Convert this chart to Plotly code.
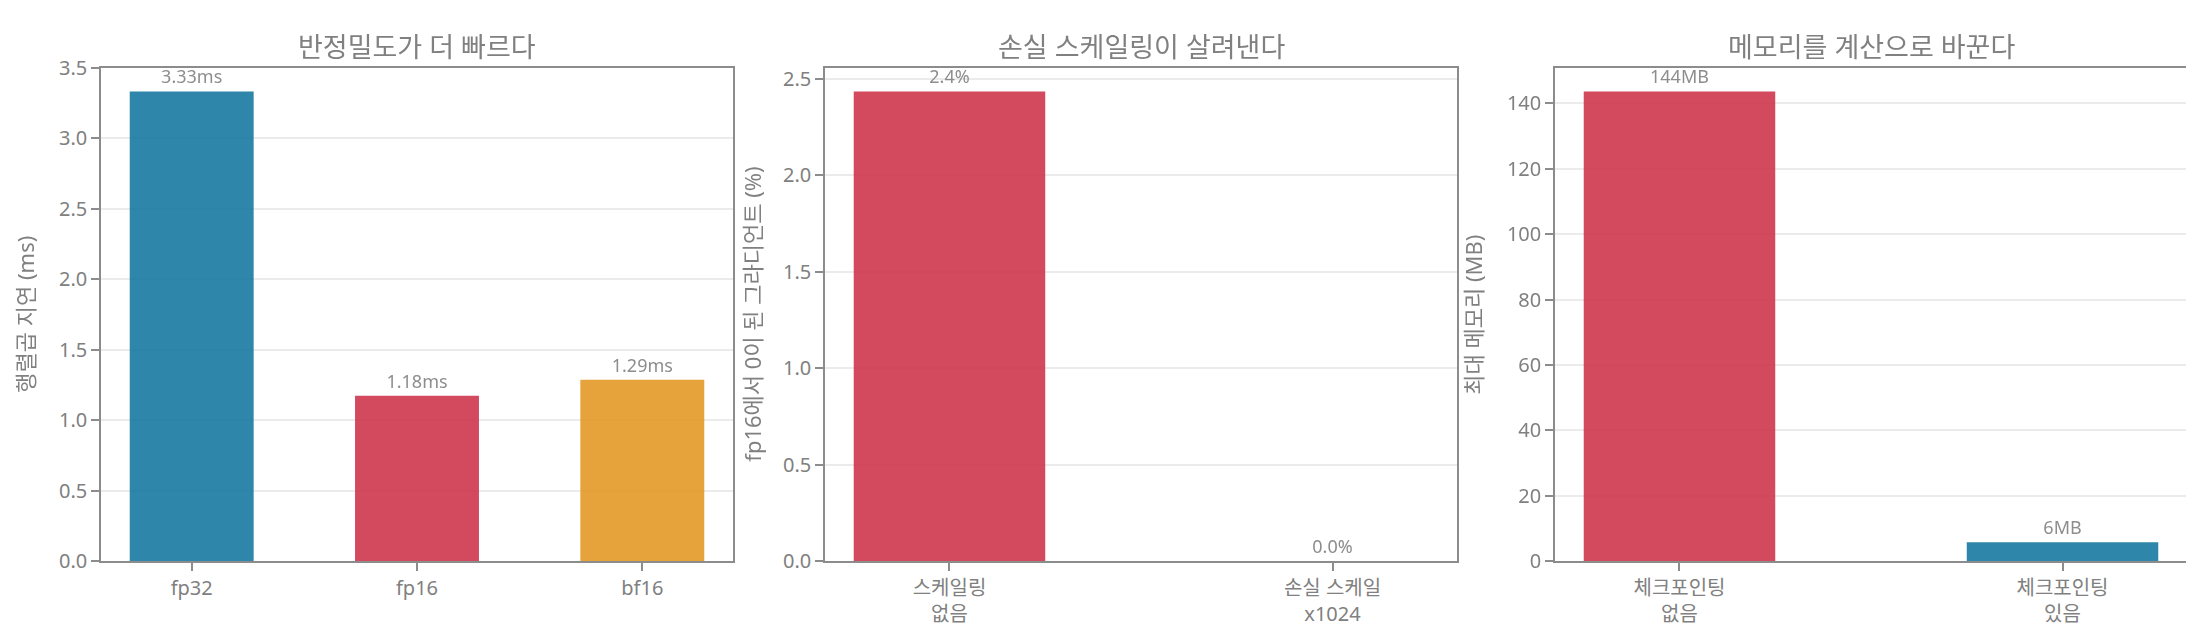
import plotly.graph_objects as go

# panel 1: matmul latency by precision
prec_labels = ["fp32", "fp16", "bf16"]
prec_latency_ms = [3.334, 1.175, 1.288]

# panel 2: share of gradients that underflow to zero in fp16
scale_labels = ["스케일링<br>없음", "손실 스케일<br>x1024"]
zero_grad_pct = [2.434, 0.0]

# panel 3: peak memory with / without checkpointing
ckpt_labels = ["체크포인팅<br>없음", "체크포인팅<br>있음"]
peak_mem_mb = [143.6, 5.8]

titles = ["반정밀도가 더 빠르다", "손실 스케일링이 살려낸다", "메모리를 계산으로 바꾼다"]
ytitles = ["행렬곱 지연 (ms)", "fp16에서 0이 된 그라디언트 (%)", "최대 메모리 (MB)"]

BLUE = "#1779A1"
RED = "#CE354C"
ORANGE = "#E59925"
TXT = "#808080"
SPINE = "#8c8c8c"
FONT = "Noto Sans, Noto Sans CJK KR, sans-serif"

W, H = 2194, 642
# plot boxes in pixels (left, right), shared top/bottom
boxes = [(93, 725), (817, 1449), (1547, 2179)]
top, bottom = 48, 563
ytitle_x = [17, 744, 1465]

fig = go.Figure()

fig.add_trace(go.Bar(
    x=prec_labels, y=prec_latency_ms, width=0.55,
    marker=dict(color=[BLUE, RED, ORANGE], line=dict(width=0)), opacity=0.9,
    texttemplate="%{y:.2f}ms", textposition="outside", cliponaxis=False,
    textfont=dict(size=18, color=TXT), xaxis="x", yaxis="y",
))
fig.add_trace(go.Bar(
    x=scale_labels, y=zero_grad_pct, width=0.5,
    marker=dict(color=[RED, BLUE], line=dict(width=0)), opacity=0.9,
    texttemplate="%{y:.1f}%", textposition="outside", cliponaxis=False,
    textfont=dict(size=18, color=TXT), xaxis="x2", yaxis="y2",
))
fig.add_trace(go.Bar(
    x=ckpt_labels, y=peak_mem_mb, width=0.5,
    marker=dict(color=[RED, BLUE], line=dict(width=0)), opacity=0.9,
    texttemplate="%{y:.0f}MB", textposition="outside", cliponaxis=False,
    textfont=dict(size=18, color=TXT), xaxis="x3", yaxis="y3",
))

def xaxis(i, ncat, w):
    pad = w / 2 + 0.05 * (ncat - 1 + w)
    l, r = boxes[i]
    return dict(
        domain=[l / W, r / W], anchor="y" if i == 0 else f"y{i+1}",
        range=[-pad, ncat - 1 + pad], type="category",
        showline=True, linecolor=SPINE, linewidth=1.5, mirror=True,
        ticks="outside", ticklen=8, tickwidth=1.5, tickcolor=SPINE,
        showgrid=False, zeroline=False,
        tickfont=dict(size=20, color=TXT, family=FONT),
    )

def yaxis(i, top_val, dtick, fmt):
    return dict(
        domain=[1 - bottom / H, 1 - top / H], anchor="x" if i == 0 else f"x{i+1}",
        range=[0, top_val], dtick=dtick, tick0=0, tickformat=fmt,
        showline=True, linecolor=SPINE, linewidth=1.5, mirror=True,
        ticks="outside", ticklen=8, tickwidth=1.5, tickcolor=SPINE,
        showgrid=True, gridcolor="#ebebeb", gridwidth=1.5, zeroline=False,
        tickfont=dict(size=20, color=TXT, family=FONT),
    )

fig.update_layout(
    width=W, height=H, margin=dict(l=0, r=0, t=0, b=0),
    paper_bgcolor="white", plot_bgcolor="white", showlegend=False,
    font=dict(family=FONT, color=TXT),
    xaxis=xaxis(0, len(prec_labels), 0.55),
    xaxis2=xaxis(1, len(scale_labels), 0.5),
    xaxis3=xaxis(2, len(ckpt_labels), 0.5),
    yaxis=yaxis(0, 3.5, 0.5, ".1f"),
    yaxis2=yaxis(1, max(zero_grad_pct) * 1.05, 0.5, ".1f"),
    yaxis3=yaxis(2, max(peak_mem_mb) * 1.05, 20, "d"),
)

for i, (l, r) in enumerate(boxes):
    fig.add_annotation(
        text=titles[i], x=(l + r) / 2 / W, y=1 - 25.5 / H, xref="paper", yref="paper",
        xanchor="center", yanchor="middle", showarrow=False,
        font=dict(size=27, color=TXT, family=FONT),
    )
    fig.add_annotation(
        text=ytitles[i], x=ytitle_x[i] / W, y=1 - (top + bottom) / 2 / H,
        xref="paper", yref="paper", xanchor="center", yanchor="middle",
        textangle=-90, showarrow=False,
        font=dict(size=22, color=TXT, family=FONT),
    )

fig.write_html("out.html")
